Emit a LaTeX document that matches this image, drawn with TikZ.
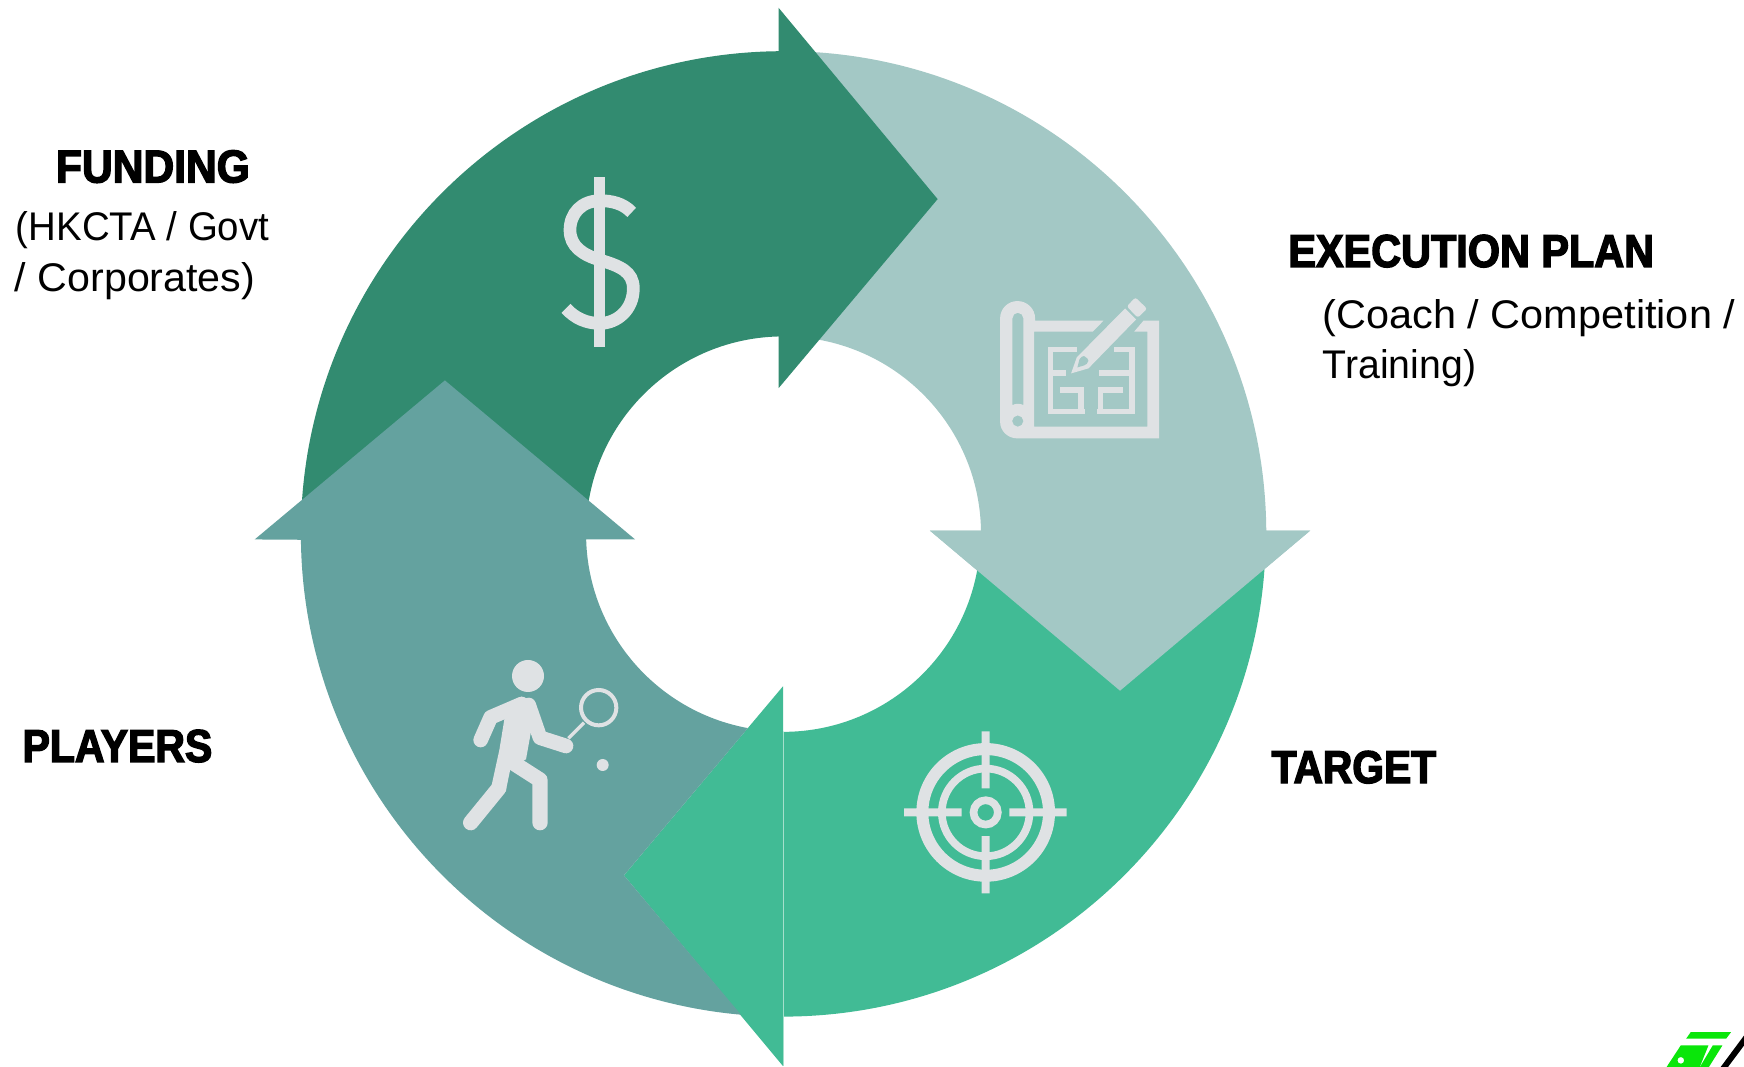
\documentclass[tikz,border=0pt]{standalone}
\usepackage{fontspec}
\setmainfont{Liberation Sans}
\newfontfamily\bodyfont{Liberation Sans}
\newfontfamily\headfont[BoldFeatures={FakeBold=3}]{Liberation Sans}
\definecolor{fundc}{HTML}{328B70}
\definecolor{execc}{HTML}{A3C8C5}
\definecolor{targc}{HTML}{41BB95}
\definecolor{playc}{HTML}{64A29F}
\definecolor{iconc}{HTML}{DFE2E4}
\definecolor{logog}{HTML}{0AE60A}
\definecolor{seamc}{HTML}{A5DFCB}
\tikzset{
  head/.style={anchor=base west,inner sep=0pt,font=\headfont\addfontfeature{FakeStretch=#1}\bfseries\fontsize{23}{23}\selectfont},
  body/.style={anchor=base west,inner sep=0pt,font=\bodyfont\addfontfeature{FakeStretch=#1}\fontsize{20}{20}\selectfont},
  zoomed/.style={shift={#1},x=0.16667pt,y=-0.16667pt},
  stroke/.style={draw=iconc,line width=#1*0.16667pt}
}
\begin{document}
\begin{tikzpicture}[x=0.55612pt,y=-0.55612pt]
\clip (0,0) rectangle (1568,958.5);
\fill[white] (0,0) rectangle (1568,958.5);
\coordinate (C) at (704.5,480);
% execution plan
\fill[execc] (C) ++(270:434) arc[start angle=270,end angle=359.6,radius=434]
  -- (1178,477) -- (1007,621) -- (836,477) -- (882,477)
  arc[start angle=359,end angle=270,radius=177.5] -- cycle;
\fill[targc] (704,480) ++(0:434) arc[start angle=0,end angle=90,radius=434]
  -- (704,958.5) -- (561,787) -- (704,617) -- (704,658)
  arc[start angle=90,end angle=0,radius=177.5] -- cycle;
\draw[seamc,line width=0.5pt] (704.5,658) -- (704.5,958);
\fill[white] (704.9,914.3) rectangle (710,958.5);
% re-draw head of execution over the target
\fill[execc] (1178,477) -- (1007,621) -- (836,477) -- cycle;
% funding
\fill[fundc] (C) ++(180:434) arc[start angle=180,end angle=269.4,radius=434]
  -- (700,7) -- (843,179) -- (700,349) -- (700,302.5)
  arc[start angle=268.6,end angle=180,radius=177.5] -- cycle;
% players
\fill[playc] (C) ++(95.07:434) arc[start angle=95.07,end angle=179.3,radius=434]
  -- (229,485) -- (400,342) -- (571,485) -- (527,485)
  arc[start angle=178.4,end angle=100.4,radius=177.5] -- (561,787) -- cycle;

% dollar
\begin{scope}[zoomed={(485.5,143.9)}]
  \fill[iconc] (161,50) rectangle (196,562);
  \draw[stroke=38] (275,157) .. controls (250,130) and (215,122) .. (180,122)
    .. controls (125,122) and (90,160) .. (90,210)
    .. controls (90,260) and (130,285) .. (180,300)
    .. controls (240,318) and (280,335) .. (280,385)
    .. controls (280,450) and (230,490) .. (180,490)
    .. controls (140,490) and (105,475) .. (78,445);
\end{scope}

% blueprint
\begin{scope}[zoomed={(863.2,242.8)}]
  \fill[iconc,even odd rule] (120,145) .. controls (120,116) and (143,93) .. (172,93)
    .. controls (201,93) and (225,116) .. (225,145) -- (225,152) -- (430,152) -- (398,185)
    -- (222,185) -- (222,470) -- (562,470) -- (562,185) -- (522,185) -- (550,152)
    -- (597,152) -- (597,505) -- (172,505) .. controls (143,505) and (120,483) .. (120,455) -- cycle
    (157,145) .. controls (157,136) and (164,128) .. (173,128)
    .. controls (182,128) and (190,136) .. (190,145) -- (190,405)
    .. controls (180,400) and (167,400) .. (157,405) -- cycle
    (190,453) .. controls (190,444) and (182,436) .. (173,436)
    .. controls (164,436) and (156,444) .. (156,453)
    .. controls (156,462) and (164,470) .. (173,470)
    .. controls (182,470) and (190,462) .. (190,453) -- cycle;
  \draw[stroke=17] (350,238) -- (271,238) -- (271,424) -- (375,424);
  \draw[stroke=17] (271,309) -- (318,309);
  \draw[stroke=17] (300,359) -- (362,359) -- (362,424);
  \draw[stroke=17] (462,238) -- (516,238) -- (516,424) -- (412,424);
  \draw[stroke=17] (418,309) -- (516,309);
  \draw[stroke=17] (490,359) -- (421,359) -- (421,424);
  \fill[iconc] (495,115) -- (528,148) -- (385,295) -- (333,310) -- (350,262) -- cycle;
  \fill[iconc,rounded corners=1.2pt] (526,82) -- (561,116) -- (533,143) -- (500,109) -- cycle;
  \fill[execc] (352,292) -- (358,268) .. controls (362,260) and (368,258) .. (372,258)
    .. controls (380,262) and (385,268) .. (385,272) .. controls (383,280) and (378,284) .. (372,286) -- cycle;
\end{scope}

% target
\begin{scope}[zoomed={(791.2,638.4)}]
  \coordinate (T) at (317,307);
  \draw[stroke=36] (T) circle[radius=190];
  \draw[stroke=23] (T) circle[radius=131.5];
  \draw[stroke=23] (T) circle[radius=36.5];
  \fill[iconc] (305,64) rectangle (329,235) (305,378) rectangle (329,550)
    (72,295) rectangle (245,319) (388,295) rectangle (560,319);
\end{scope}

% player
\begin{scope}[zoomed={(395.6,575.4)}]
  \fill[iconc] (264,108) circle[radius=48];
  \fill[iconc] (488,375) circle[radius=18];
  \draw[stroke=12] (476,203) circle[radius=53];
  \draw[stroke=10] (385,295) -- (432,248);
  \fill[iconc] (193,238) -- (245,170) -- (285,190) -- (272,280) -- (258,358)
    -- (212,382) -- (197,455) -- (155,435) -- (178,330) -- cycle;
  \draw[stroke=44,line cap=round,line join=round] (122,300) -- (152,232) -- (245,192);
  \draw[stroke=44,line cap=round,line join=round] (266,195) -- (300,293) -- (378,318);
  \draw[stroke=46,line cap=round,line join=round] (176,445) -- (92,548);
  \draw[stroke=46,line cap=round,line join=round] (225,372) -- (300,420) -- (300,548);
\end{scope}

% logo
\begin{scope}[zoomed={(1474.6,904.5)}]
  \fill[logog] (152,78) -- (273,78) -- (258,98) -- (138,98) -- cycle;
  \fill[logog,even odd rule] (122,118) -- (205,118) -- (178,185) -- (78,185) -- cycle
    (132,163) .. controls (132,157) and (128,153) .. (122,153) .. controls (116,153) and (112,157) .. (112,163)
    .. controls (112,169) and (116,173) .. (122,173) .. controls (128,173) and (132,169) .. (132,163) -- cycle;
  \fill[logog] (218,118) -- (247,118) -- (205,185) -- (178,185) -- cycle;
  \fill[black] (312,88) -- (312,118) -- (262,185) -- (240,185) -- cycle;
\end{scope}

% labels
\node[head=0.925] (funding) at (50,164) {FUNDING};
\node[body=0.96] (funda) at (14,216) {(HKCTA / Govt};
\node[body=1.03] (fundb) at (13,262) {/ Corporates)};
\node[head=0.90] (exec) at (1158,240) {EXECUTION PLAN};
\node[body=1.036] (execa) at (1189,295) {(Coach / Competition /};
\node[body=0.98] (execb) at (1189,340) {Training)};
\node[head=0.885] (target) at (1143,704) {TARGET};
\node[head=0.89] (players) at (20,685) {PLAYERS};
\end{tikzpicture}
\end{document}
